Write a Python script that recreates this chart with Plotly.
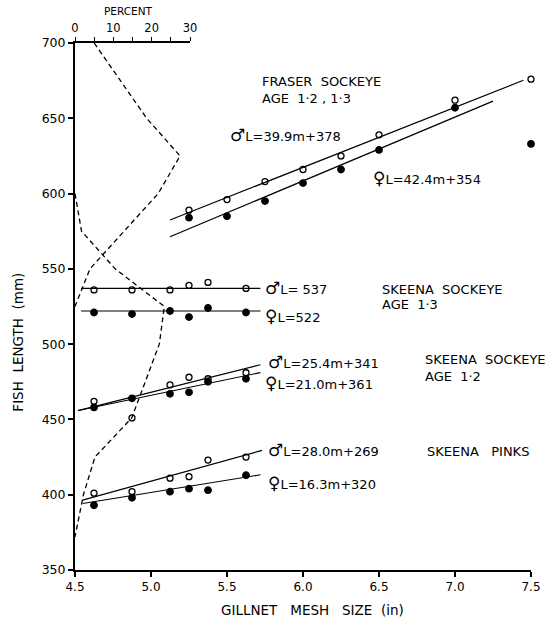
import plotly.graph_objects as go

# ---------------- data ----------------
mesh = [4.625, 4.875, 5.125, 5.25, 5.375, 5.625]
fraser_mesh = [5.25, 5.5, 5.75, 6.0, 6.25, 6.5, 7.0, 7.5]
fraser_male = [589, 596, 608, 616, 625, 639, 662, 676]
fraser_female = [584, 585, 595, 607, 616, 629, 657, 633]
sk13_male = [536, 536, 536, 539, 541, 537]
sk13_female = [521, 520, 522, 518, 524, 521]
sk12_male = [462, 451, 473, 478, 477, 481]
sk12_female = [458, 464, 467, 468, 475, 477]
pink_male = [401, 402, 411, 412, 423, 425]
pink_female = [393, 398, 402, 404, 403, 413]

# regression lines printed on the chart: slope, intercept, mesh range
fit_slope = [39.9, 42.4, 0.0, 0.0, 25.4, 21.0, 28.0, 16.3]
fit_icept = [378, 354, 537, 522, 341, 361, 269, 320]
fit_x0 = [5.125, 5.125, 4.54, 4.54, 4.52, 4.52, 4.55, 4.55]
fit_x1 = [7.45, 7.25, 5.72, 5.72, 5.72, 5.72, 5.73, 5.72]

# length-frequency curves (percent, top axis)
fraser_freq_len = [700, 650, 625, 600, 550, 525]
fraser_freq_pct = [5.0, 18.7, 27.4, 21.7, 3.9, 0.0]
skeena_freq_len = [600, 575, 550, 525, 500, 451, 425, 400, 372]
skeena_freq_pct = [0.0, 1.7, 10.5, 23.3, 22.0, 14.8, 5.2, 2.2, 0.0]

FONT = "DejaVu Sans"
fig = go.Figure()

# regression lines
for s, b, a0, a1 in zip(fit_slope, fit_icept, fit_x0, fit_x1):
    fig.add_trace(go.Scatter(x=[a0, a1], y=[s * a0 + b, s * a1 + b], mode="lines",
                             line=dict(color="black", width=1.2), showlegend=False,
                             hoverinfo="skip"))

# data points
def pts(xs, ys, male):
    fig.add_trace(go.Scatter(
        x=xs, y=ys, mode="markers", showlegend=False, cliponaxis=False,
        marker=dict(symbol="circle-open" if male else "circle", size=6 if male else 6.5,
                    color="black", line=dict(color="black", width=1.3)),
    ))

pts(fraser_mesh, fraser_male, True)
pts(fraser_mesh, fraser_female, False)
pts(mesh, sk13_male, True)
pts(mesh, sk13_female, False)
pts(mesh, sk12_male, True)
pts(mesh, sk12_female, False)
pts(mesh, pink_male, True)
pts(mesh, pink_female, False)

# percent curves on top axis
for p, L in [(fraser_freq_pct, fraser_freq_len), (skeena_freq_pct, skeena_freq_len)]:
    fig.add_trace(go.Scatter(x=p, y=L, xaxis="x2", yaxis="y", mode="lines",
                             line=dict(color="black", width=1.3, dash="5px,3.5px"),
                             showlegend=False, hoverinfo="skip"))

ann = []
def txt(x, y, s, size=13, xref="x", yref="y", **kw):
    d = dict(x=x, y=y, xref=xref, yref=yref, text=s, showarrow=False,
             xanchor="left", yanchor="middle", font=dict(family=FONT, size=size, color="black"))
    d.update(kw)
    ann.append(d)

M = "<span style='font-size:17px'>♂</span>"
F = "<span style='font-size:17px'>♀</span>"
txt(5.717, 674.5, "FRASER  SOCKEYE")
txt(5.717, 663, "AGE  1·2 , 1·3")
txt(5.507, 638.8, M + "L=39.9m+378")
txt(6.447, 610.5, F + "L=42.4m+354")
txt(5.737, 537, M + "L= 537")
txt(5.737, 519, F + "L=522")
txt(6.507, 536.6, "SKEENA  SOCKEYE")
txt(6.507, 526, "AGE  1·3")
txt(5.757, 488, M + "L=25.4m+341")
txt(5.737, 474, F + "L=21.0m+361")
txt(6.79, 490, "SKEENA  SOCKEYE")
txt(6.79, 478.4, "AGE  1·2")
txt(5.757, 430, M + "L=28.0m+269")
txt(5.757, 408, F + "L=16.3m+320")
txt(6.80, 429, "SKEENA   PINKS")

# axis titles
txt(-0.125, 501, "FISH  LENGTH  (mm)", size=13.5, xref="paper", yref="y",
    textangle=-90, xanchor="center")
txt(0.52, -0.076, "GILLNET   MESH   SIZE  (in)", size=13.5, xref="paper", yref="paper",
    xanchor="center")
txt(0.117, 1.06, "PERCENT", size=10.5, xref="paper", yref="paper", xanchor="center")

fig.update_layout(
    width=553, height=620,
    margin=dict(l=75, r=22, t=43, b=50),
    paper_bgcolor="white", plot_bgcolor="rgba(0,0,0,0)",
    font=dict(family=FONT, color="black"),
    annotations=ann,
    xaxis=dict(range=[4.5, 7.5], tickvals=[4.5, 5.0, 5.5, 6.0, 6.5, 7.0, 7.5],
               ticktext=["4.5", "5.0", "5.5", "6.0", "6.5", "7.0", "7.5"],
               showgrid=False, zeroline=False, showline=True, linecolor="black", linewidth=2,
               ticks="outside", ticklen=5, tickwidth=1.5, tickcolor="black",
               tickfont=dict(size=12, family=FONT), mirror=False),
    yaxis=dict(range=[350, 700], tickvals=[350, 400, 450, 500, 550, 600, 650, 700],
               showgrid=False, zeroline=False, showline=True, linecolor="black", linewidth=2,
               ticks="outside", ticklen=5, tickwidth=1.5, tickcolor="black",
               tickfont=dict(size=12.5, family=FONT), mirror=False),
    xaxis2=dict(domain=[0, 115 / 456], range=[0, 30], anchor="y", side="top",
                tickvals=[0, 5, 10, 15, 20, 25, 30], ticktext=["0", "", "10", "", "20", "", "30"],
                showgrid=False, zeroline=False, showline=True, linecolor="black", linewidth=2,
                ticks="outside", ticklen=4, tickwidth=1.3, tickcolor="black",
                tickfont=dict(size=11.5, family=FONT)),
)

fig.write_html("out.html")
